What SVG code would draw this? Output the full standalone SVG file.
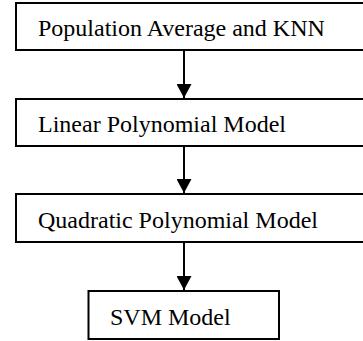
<svg xmlns="http://www.w3.org/2000/svg" width="363" height="341" viewBox="0 0 363 341">
<style>
.box{fill:#fff;stroke:#000;stroke-width:2}
.lbl{font-family:'Liberation Serif','Times New Roman',serif;font-size:24px;fill:#000}
.conn{stroke:#000;stroke-width:2;fill:none}
</style>
<defs>
<marker id="ah" markerUnits="userSpaceOnUse" markerWidth="15" markerHeight="15" refX="14" refY="7.5" orient="auto" viewBox="0 0 15 15">
<path d="M0,0 L14,7.5 L0,15 z" fill="#000"/>
</marker>
</defs>
<rect width="363" height="341" fill="#fff"/>
<g id="connectors">
<line class="conn" x1="184" y1="51" x2="184" y2="98" marker-end="url(#ah)"/>
<line class="conn" x1="184" y1="147" x2="184" y2="193" marker-end="url(#ah)"/>
<line class="conn" x1="184" y1="243" x2="184" y2="290" marker-end="url(#ah)"/>
</g>
<g id="node1">
<rect class="box" x="16" y="3" width="352" height="47"/>
<text class="lbl" font-family="Liberation Serif, serif" x="38" y="36">Population Average and KNN</text>
</g>
<g id="node2">
<rect class="box" x="16" y="99" width="352" height="47"/>
<text class="lbl" font-family="Liberation Serif, serif" x="38" y="132">Linear Polynomial Model</text>
</g>
<g id="node3">
<rect class="box" x="16" y="194" width="352" height="48"/>
<text class="lbl" font-family="Liberation Serif, serif" x="38" y="228">Quadratic Polynomial Model</text>
</g>
<g id="node4">
<rect class="box" x="88.5" y="291" width="190.5" height="48"/>
<text class="lbl" font-family="Liberation Serif, serif" x="110" y="325">SVM Model</text>
</g>
</svg>
